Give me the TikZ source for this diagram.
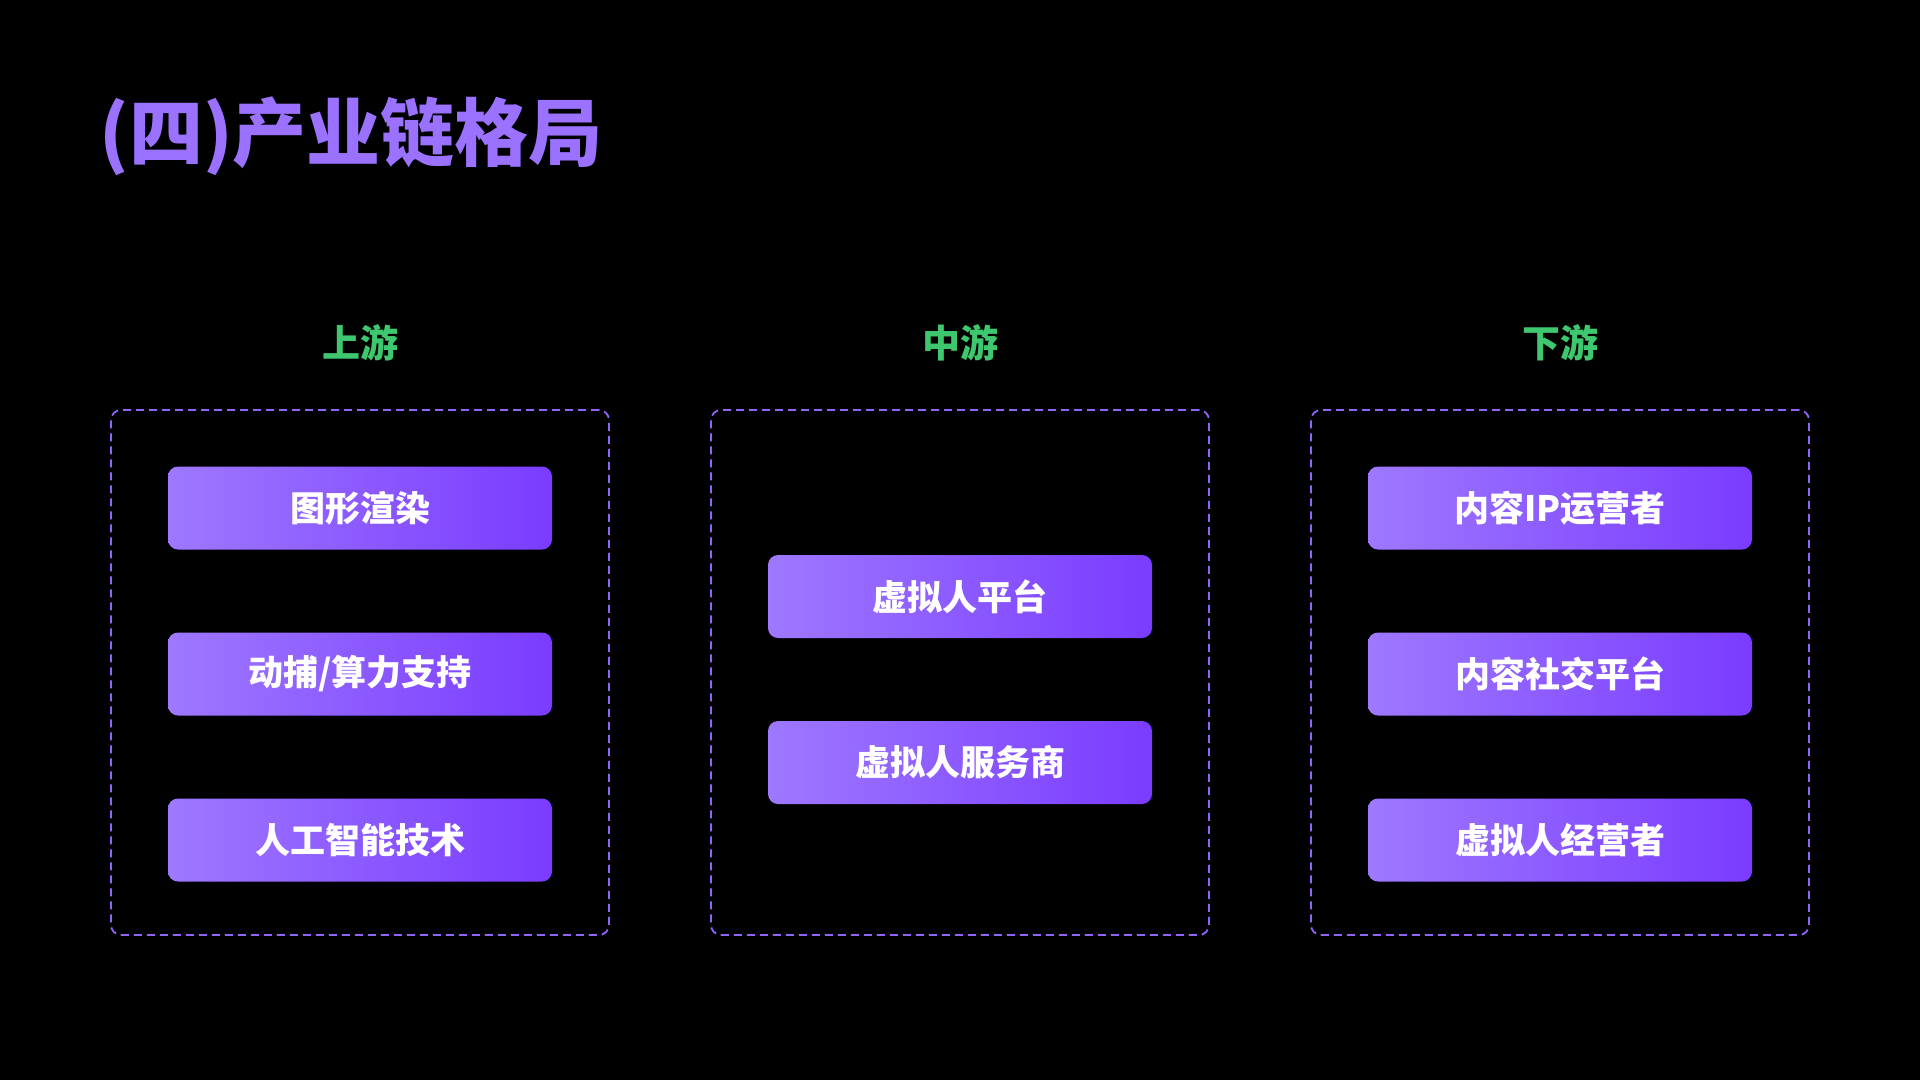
\documentclass[tikz,border=0pt]{standalone}
\usepackage{fontspec}
\setmainfont{Noto Sans CJK SC}
\usepackage{tikz}
\usetikzlibrary{positioning}
\definecolor{titlepurple}{RGB}{155,114,255}
\definecolor{headgreen}{RGB}{62,199,110}
\definecolor{dashpurple}{RGB}{145,100,250}
\definecolor{gradleft}{RGB}{158,120,255}
\definecolor{gradright}{RGB}{122,60,255}

\begin{document}
\begin{tikzpicture}[
    x=1pt, y=-1pt,
    item/.style={rounded corners=10pt, minimum width=384pt, minimum height=83pt, inner sep=0pt,
        left color=gradleft, right color=gradright, text=white, font=\fontsize{35}{40}\selectfont\bfseries},
    head/.style={text=headgreen, font=\fontsize{38}{44}\selectfont\bfseries},
    frame/.style={draw=dashpurple, dash pattern=on 8pt off 5pt, line width=1.8pt, rounded corners=10pt,
        minimum width=498pt, minimum height=525pt}
]
\fill[black] (0,0) rectangle (1920,1080);
\useasboundingbox (0,0) rectangle (1920,1080);

\node[anchor=west, text=titlepurple, font=\fontsize{74}{80}\selectfont\bfseries] (title) at (96,136) {(四)产业链格局};

% upstream
\node[head] (uphead) at (360,343) {上游};
\node[frame] (upframe) at (360,672.5) {};
\node[item] (render) at (360,508) {\raisebox{-2pt}{图形渲染}};
\node[item] (mocap) at (360,674) {\raisebox{-2pt}{动捕/算力支持}};
\node[item] (ai) at (360,840) {\raisebox{-2pt}{人工智能技术}};

% midstream
\node[head] (midhead) at (960,343) {中游};
\node[frame] (midframe) at (960,672.5) {};
\node[item] (platform) at (960,596.5) {\raisebox{-2pt}{虚拟人平台}};
\node[item] (service) at (960,762.5) {\raisebox{-2pt}{虚拟人服务商}};

% downstream
\node[head] (downhead) at (1560,343) {下游};
\node[frame] (downframe) at (1560,672.5) {};
\node[item] (ipop) at (1560,508) {\raisebox{-2pt}{内容IP运营者}};
\node[item] (social) at (1560,674) {\raisebox{-2pt}{内容社交平台}};
\node[item] (operator) at (1560,840) {\raisebox{-2pt}{虚拟人经营者}};

\end{tikzpicture}
\end{document}
